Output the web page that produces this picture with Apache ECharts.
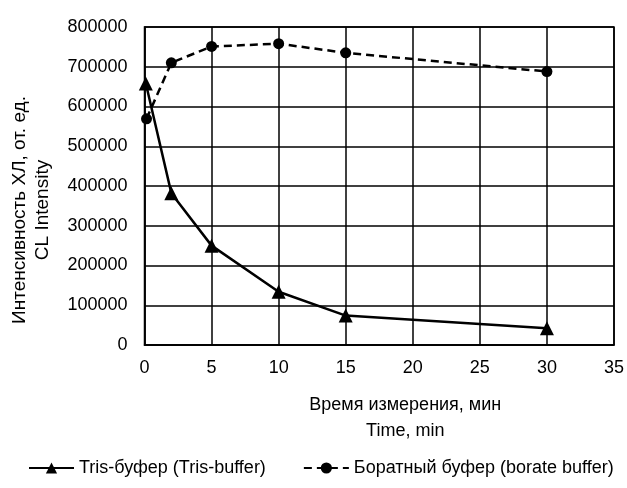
<!DOCTYPE html>
<html><head><meta charset="utf-8">
<script src="https://cdn.jsdelivr.net/npm/echarts@6/dist/echarts.min.js"></script>
<style>html,body{margin:0;padding:0;background:#fff}#c{width:627px;height:488px}</style>
</head><body><div id="c"></div>
<script>
const xTicks = [0, 5, 10, 15, 20, 25, 30, 35];
const yTicks = [0, 100000, 200000, 300000, 400000, 500000, 600000, 700000, 800000];
const trisTime = [0.1, 2, 5, 10, 15, 30];
const trisValues = [658000, 382000, 250000, 134000, 74000, 42000];
const borateTime = [0.15, 2, 5, 10, 15, 30];
const borateValues = [569000, 710000, 751000, 758000, 735000, 688000];
const trisName = 'Tris-буфер (Tris-buffer)';
const borateName = 'Боратный буфер (borate buffer)';

const font = 'Liberation Sans, Arial, sans-serif';
const chart = echarts.init(document.getElementById('c'), null, {renderer: 'canvas'});
const pair = (xs, ys) => xs.map((x, i) => [x, ys[i]]);
chart.setOption({
  animation: false,
  backgroundColor: '#fff',
  grid: {left: 144.5, right: 13, top: 27, bottom: 143, show: true, borderColor: '#000', borderWidth: 1.5,
         containLabel: false, outerBoundsMode: 'none'},
  legend: {
    top: 454, left: 23, itemGap: 37, itemWidth: 45, itemHeight: 14,
    textStyle: {fontFamily: font, fontSize: 18, color: '#000'},
    data: [trisName, borateName]
  },
  xAxis: {
    type: 'value', min: xTicks[0], max: xTicks[xTicks.length - 1], interval: 5,
    name: 'Время измерения, мин\nTime, min', nameLocation: 'middle', nameGap: 47,
    nameTextStyle: {fontFamily: font, fontSize: 18, color: '#000', lineHeight: 26, padding: [0, 0, 0, 52]},
    axisLine: {lineStyle: {color: '#000', width: 1.5}},
    axisTick: {show: false},
    axisLabel: {fontFamily: font, fontSize: 18, color: '#000', margin: 14},
    splitLine: {show: true, lineStyle: {color: '#000', width: 1.5}}
  },
  yAxis: {
    type: 'value', min: yTicks[0], max: yTicks[yTicks.length - 1], interval: 100000,
    name: 'Интенсивность ХЛ, от. ед.\nCL Intensity', nameLocation: 'middle', nameRotate: 90, nameGap: 90,
    nameTextStyle: {fontFamily: font, fontSize: 19, color: '#000', lineHeight: 23, padding: [0, 48, 0, 0]},
    axisLine: {lineStyle: {color: '#000', width: 1.5}},
    axisTick: {show: false},
    axisLabel: {fontFamily: font, fontSize: 18, color: '#000', margin: 17, formatter: v => String(v)},
    splitLine: {show: true, lineStyle: {color: '#000', width: 1.5}}
  },
  series: [
    {
      name: trisName, type: 'line', data: pair(trisTime, trisValues),
      symbol: 'triangle', symbolSize: 14,
      lineStyle: {color: '#000', width: 2.5},
      itemStyle: {color: '#000'}
    },
    {
      name: borateName, type: 'line', data: pair(borateTime, borateValues),
      symbol: 'circle', symbolSize: 11,
      lineStyle: {color: '#000', width: 2.5, type: [8, 5]},
      itemStyle: {color: '#000'}
    }
  ]
});
</script></body></html>
